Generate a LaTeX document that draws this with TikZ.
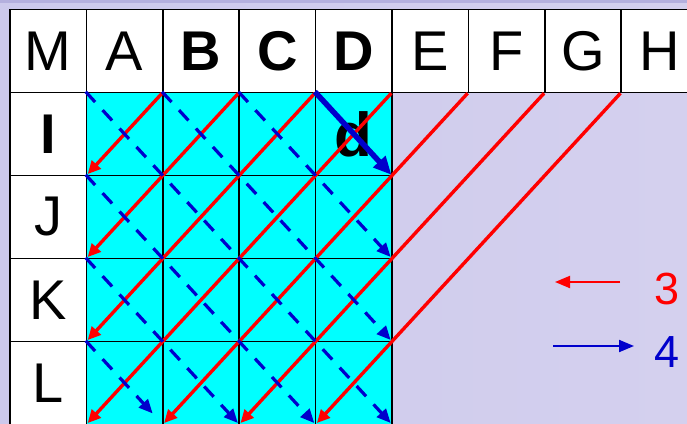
\documentclass[tikz,border=0pt]{standalone}
\usepackage{fontspec}
\setmainfont{Liberation Sans}
\usetikzlibrary{positioning,arrows.meta}
\definecolor{lavA}{RGB}{204,201,236}
\definecolor{lavB}{RGB}{234,233,245}
\definecolor{lavC}{RGB}{212,208,238}
\definecolor{lavbar}{RGB}{180,176,222}
\definecolor{myblue}{RGB}{0,0,204}
\definecolor{mycyan}{RGB}{0,255,255}

\begin{document}
\begin{tikzpicture}[x=1pt,y=-1pt,
  every node/.style={font=\fontsize{56}{60}\selectfont,align=center},
  cell/.style={draw,rectangle,line width=1.5pt,minimum width=76.4pt,minimum height=83pt,inner sep=0pt,fill=white},
  redline/.style={red,line width=3.4pt,shorten >=3pt,-{Triangle[length=13pt,width=12pt]}},
  blueline/.style={myblue,line width=3.2pt,dash pattern=on 14pt off 11pt,shorten >=3pt,-{Triangle[length=14pt,width=12pt]}}]
  \useasboundingbox (0,0) rectangle (687,423);
  \clip (0,0) rectangle (687,423);
  \shade[left color=lavA,middle color=lavB,right color=lavC] (0,0) rectangle (687,423);
  \fill[lavbar] (0,0) rectangle (687,3);

  % header row and row labels
  \foreach \n/\t [count=\i from 0] in {M/M,A/A,B/\textbf{B},C/\textbf{C},D/\textbf{D},E/E,F/F,G/G,H/H}
    \node[cell] (h\n) at (48.2+76.4*\i,51) {\t};
  \foreach \r/\t [count=\j from 0] in {I/\textbf{I},J/J,K/K,L/L}
    \node[cell] (r\r) at (48.2,134+83*\j) {\t};

  % cyan block
  \foreach \c [count=\i from 1] in {A,B,C,D}
    \foreach \r [count=\j from 0] in {I,J,K,L}
      \node[cell,fill=mycyan] (\c-\r) at (48.2+76.4*\i,134+83*\j) {};
  \node[font=\fontsize{62}{64}\selectfont\bfseries] (dlab) at (D-I) {d};

  % diagonals
  \foreach \s/\e in {hB/A-I,hC/A-J,hD/A-K,hE/A-L,hF/B-L,hG/C-L,hH/D-L}
    \draw[redline] (\s.south west) -- (\e.south west);
  \foreach \s/\e in {A-I/D-L,B-I/D-K,C-I/D-J,A-J/C-L,A-K/B-L}
    \draw[blueline] (\s.north west) -- (\e.south east);
  \draw[blueline,shorten >=16pt] (A-L.north west) -- (A-L.south east);
  \draw[myblue,line width=5.5pt,shorten >=2pt,-{Triangle[length=18pt,width=16pt]}] (D-I.north west) -- (D-I.south east);

  % legend
  \node[text=red,font=\fontsize{45}{48}\selectfont] (n3) at (667,289) {3};
  \node[text=myblue,font=\fontsize{45}{48}\selectfont] (n4) at (667,352) {4};
  \coordinate (a3) at (620,282);
  \coordinate (b3) at (555,282);
  \coordinate (a4) at (553,346);
  \coordinate (b4) at (634,346);
  \draw[red,line width=2pt,-{Triangle[length=15pt,width=12pt]}] (a3) -- (b3);
  \draw[myblue,line width=2pt,-{Triangle[length=15pt,width=12pt]}] (a4) -- (b4);
\end{tikzpicture}
\end{document}
